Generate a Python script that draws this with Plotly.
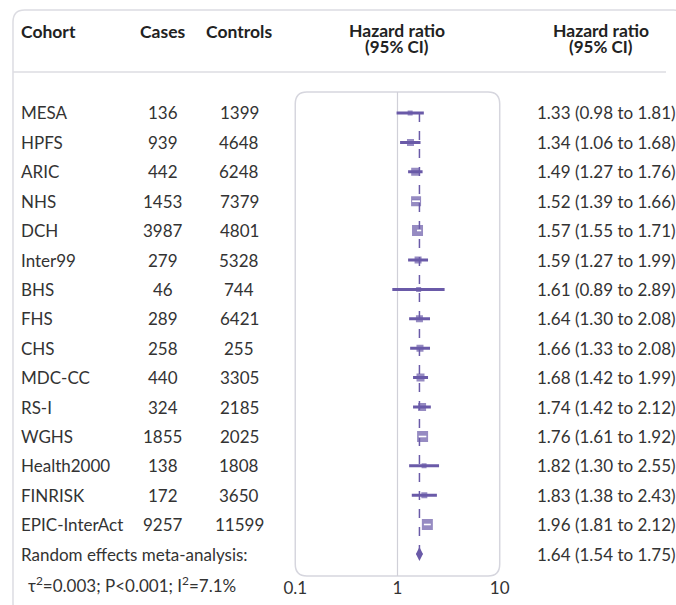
import math
import plotly.graph_objects as go

cohorts = ["MESA", "HPFS", "ARIC", "NHS", "DCH", "Inter99", "BHS", "FHS", "CHS",
           "MDC-CC", "RS-I", "WGHS", "Health2000", "FINRISK", "EPIC-InterAct"]
cases = [136, 939, 442, 1453, 3987, 279, 46, 289, 258, 440, 324, 1855, 138, 172, 9257]
controls = [1399, 4648, 6248, 7379, 4801, 5328, 744, 6421, 255, 3305, 2185, 2025, 1808, 3650, 11599]
hr = [1.33, 1.34, 1.49, 1.52, 1.57, 1.59, 1.61, 1.64, 1.66, 1.68, 1.74, 1.76, 1.82, 1.83, 1.96]
lo = [0.98, 1.06, 1.27, 1.39, 1.55, 1.27, 0.89, 1.30, 1.33, 1.42, 1.42, 1.61, 1.30, 1.38, 1.81]
hi = [1.81, 1.68, 1.76, 1.66, 1.71, 1.99, 2.89, 2.08, 2.08, 1.99, 2.12, 1.92, 2.55, 2.43, 2.12]
meta_label = "Random effects meta-analysis:"
meta_hr, meta_lo, meta_hi = 1.64, 1.54, 1.75
meta_stats = "τ<sup>2</sup>=0.003; P<0.001; I<sup>2</sup>=7.1%"
tick_vals = [0.1, 1, 10]
tick_text = ["0.1", "1", "10"]

# styling
box_sizes = [5, 7, 8, 10, 11, 7, 5, 7, 7, 8, 8, 11, 5, 6, 11]
PURPLE = "#6a5aa8"
TXT = "#333333"
HC = "#222222"
FONT = "Lato"
W, H = 676, 605
FS = 17
HFS = 17.5

# the rendered page places the figure ~11 px in and ~3% narrower; compensate horizontally
X_OFF, X_SCL = 11.0, 0.97

def px_x(p):
    return max(0.0, (p - X_OFF) / X_SCL) / W

def px_y(p):
    return 1 - p / H

rows = list(range(len(cohorts)))
meta_row = len(cohorts)
row_step = 29.4
row0_px = 113
box_top, box_bot = 92, 576
box_left, box_right = 295, 500
y_top = (box_top - row0_px) / row_step
y_bot = (box_bot - row0_px) / row_step

fig = go.Figure()

for i in rows:
    fig.add_trace(go.Scatter(x=[lo[i], hi[i]], y=[i, i], mode="lines",
                             line=dict(color=PURPLE, width=3), hoverinfo="skip", showlegend=False))
fig.add_trace(go.Scatter(x=hr, y=rows, mode="markers",
                         marker=dict(symbol="square", size=box_sizes, color=PURPLE, line=dict(width=0)),
                         hoverinfo="skip", showlegend=False))
scale = (box_right - box_left) / 2.0
for i in rows:
    half = box_sizes[i] / 2.0
    cx = math.log10(hr[i]) * scale
    if (cx - math.log10(lo[i]) * scale) < half and (math.log10(hi[i]) * scale - cx) < half:
        fig.add_trace(go.Scatter(x=[lo[i], hi[i]], y=[i, i], mode="lines",
                                 line=dict(color="white", width=2), hoverinfo="skip", showlegend=False))
fig.add_trace(go.Scatter(x=[meta_lo, meta_hi], y=[meta_row, meta_row], mode="lines",
                         line=dict(color=PURPLE, width=2), hoverinfo="skip", showlegend=False))
fig.add_trace(go.Scatter(x=[meta_hr], y=[meta_row], mode="markers",
                         marker=dict(symbol="diamond-tall", size=10, color=PURPLE),
                         hoverinfo="skip", showlegend=False))

def rrect(x0, y0, x1, y1, r):
    X0, X1 = px_x(x0), (x1 - X_OFF) / X_SCL / W
    Y0, Y1 = px_y(y0), px_y(y1)
    rx, ry = r / W, r / H
    return (f"M {X0+rx},{Y0} L {X1-rx},{Y0} Q {X1},{Y0} {X1},{Y0-ry} "
            f"L {X1},{Y1+ry} Q {X1},{Y1} {X1-rx},{Y1} L {X0+rx},{Y1} "
            f"Q {X0},{Y1} {X0},{Y1+ry} L {X0},{Y0-ry} Q {X0},{Y0} {X0+rx},{Y0} Z")

shapes = [
    dict(type="path", xref="paper", yref="paper", path=rrect(12, 10, 686, 615, 12),
         line=dict(color="#dcdce2", width=1.5), layer="below"),
    dict(type="line", xref="paper", yref="paper", x0=px_x(12), x1=1, y0=px_y(72), y1=px_y(72),
         line=dict(color="#dcdce2", width=1.5), layer="below"),
    dict(type="path", xref="paper", yref="paper", path=rrect(box_left, box_top, box_right, box_bot, 12),
         line=dict(color="#d6d6de", width=1.5), layer="below"),
    dict(type="line", xref="x", yref="paper", x0=1, x1=1, y0=px_y(box_bot), y1=px_y(box_top),
         line=dict(color="#d0d0d8", width=1.2), layer="below"),
    dict(type="line", xref="x", yref="y", x0=meta_hr, x1=meta_hr, y0=0, y1=meta_row,
         line=dict(color=PURPLE, width=1.5, dash="dash"), layer="below"),
]

ann = []
def t(x, y, text, xanchor="left", yref="y", bold=False, size=FS, color=TXT):
    ann.append(dict(x=x, y=y, xref="paper", yref=yref, text=f"<b>{text}</b>" if bold else text,
                    showarrow=False, xanchor=xanchor, yanchor="middle",
                    font=dict(family=FONT, size=size, color=color)))

t(px_x(18), px_y(31), "Cohort", yref="paper", bold=True, color=HC, size=HFS)
t(px_x(162), px_y(31), "Cases", "center", yref="paper", bold=True, color=HC, size=HFS)
t(px_x(239), px_y(31), "Controls", "center", yref="paper", bold=True, color=HC, size=HFS)
for cx in (397, 602):
    t(px_x(cx), px_y(30), "Hazard ratio", "center", yref="paper", bold=True, color=HC, size=HFS)
    t(px_x(cx), px_y(47), "(95% CI)", "center", yref="paper", bold=True, color=HC, size=17)

for i in rows:
    t(px_x(18), i, cohorts[i])
    t(px_x(162), i, str(cases[i]), "center")
    t(px_x(239), i, str(controls[i]), "center")
    t(px_x(535), i, f"{hr[i]:.2f} ({lo[i]:.2f} to {hi[i]:.2f})")
t(px_x(18), meta_row, meta_label)
t(px_x(535), meta_row, f"{meta_hr:.2f} ({meta_lo:.2f} to {meta_hi:.2f})")
t(px_x(25), px_y(584), meta_stats, yref="paper")

fig.update_layout(
    width=W, height=H, autosize=False, margin=dict(l=0, r=0, t=0, b=0, pad=0),
    paper_bgcolor="white", plot_bgcolor="rgba(0,0,0,0)",
    shapes=shapes, annotations=ann, showlegend=False,
    xaxis=dict(type="log", range=[-1, 1], domain=[px_x(box_left), px_x(box_right)],
               tickvals=tick_vals, ticktext=tick_text, showgrid=False, zeroline=False,
               showline=False, ticks="", tickfont=dict(family=FONT, size=FS, color=TXT)),
    yaxis=dict(range=[y_bot, y_top], domain=[px_y(box_bot), px_y(box_top)],
               showgrid=False, zeroline=False, showticklabels=False, showline=False, ticks=""),
)

fig.write_html("out.html", config={"displayModeBar": False, "responsive": False},
               post_script="document.body.style.margin='0px';document.body.style.padding='0px';")
